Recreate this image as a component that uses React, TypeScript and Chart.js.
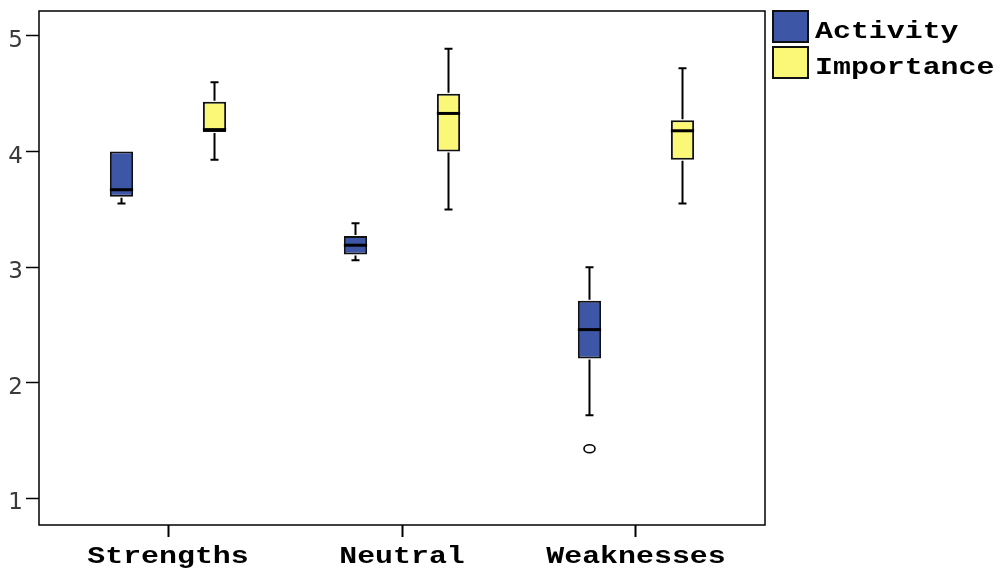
import React, { useEffect, useRef } from "react";
import { Chart, registerables } from "chart.js";

Chart.register(...registerables);

// ---- data ----
const categories = ["Strengths", "Neutral", "Weaknesses"];
const seriesNames = ["Activity", "Importance"];
const seriesColors = ["#3D56A6", "#FBF877"];

const activityMin = [3.55, 3.06, 1.72];
const activityQ1 = [3.61, 3.11, 2.21];
const activityMedian = [3.67, 3.19, 2.46];
const activityQ3 = [4.0, 3.27, 2.71];
const activityMax = [4.0, 3.38, 3.0];
const activityOutliers: number[][] = [[], [], [1.43]];

const importanceMin = [3.93, 3.5, 3.55];
const importanceQ1 = [4.17, 4.0, 3.93];
const importanceMedian = [4.19, 4.33, 4.18];
const importanceQ3 = [4.43, 4.5, 4.27];
const importanceMax = [4.6, 4.89, 4.72];
const importanceOutliers: number[][] = [[], [], []];

const yTicks = [1, 2, 3, 4, 5];
const xTicks = [0, 1, 2];

const stats = [
  { min: activityMin, q1: activityQ1, med: activityMedian, q3: activityQ3, max: activityMax, out: activityOutliers },
  { min: importanceMin, q1: importanceQ1, med: importanceMedian, q3: importanceQ3, max: importanceMax, out: importanceOutliers },
];

const LABEL_FONT = "bold 23px 'Liberation Mono', 'Courier New', monospace";
const STRETCH = 1.3;

function stretchedText(ctx: CanvasRenderingContext2D, text: string, x: number, y: number, align: CanvasTextAlign) {
  ctx.save();
  ctx.translate(x, y);
  ctx.scale(STRETCH, 1);
  ctx.textAlign = align;
  ctx.textBaseline = "alphabetic";
  ctx.fillText(text, 0, 0);
  ctx.restore();
}

const boxPlugin = {
  id: "boxExtras",
  afterDatasetsDraw(chart: any) {
    const ctx: CanvasRenderingContext2D = chart.ctx;
    const ys = chart.scales.y;
    ctx.save();
    stats.forEach((s, di) => {
      const meta = chart.getDatasetMeta(di);
      meta.data.forEach((el: any, i: number) => {
        const x = el.x;
        const w = el.width;
        const pTop = ys.getPixelForValue(s.q3[i]);
        const pBot = ys.getPixelForValue(s.q1[i]);
        const pMax = ys.getPixelForValue(s.max[i]);
        const pMin = ys.getPixelForValue(s.min[i]);
        const pMed = ys.getPixelForValue(s.med[i]);
        ctx.strokeStyle = "#000";
        ctx.lineWidth = 2;
        ctx.lineCap = "butt";
        const cap = 4;
        if (pMax < pTop - 0.5) {
          ctx.beginPath();
          ctx.moveTo(x, pTop - 1);
          ctx.lineTo(x, pMax);
          ctx.moveTo(x - cap, pMax);
          ctx.lineTo(x + cap, pMax);
          ctx.stroke();
        }
        if (pMin > pBot + 0.5) {
          ctx.beginPath();
          ctx.moveTo(x, pBot + 1);
          ctx.lineTo(x, pMin);
          ctx.moveTo(x - cap, pMin);
          ctx.lineTo(x + cap, pMin);
          ctx.stroke();
        }
        ctx.lineWidth = 3;
        ctx.beginPath();
        ctx.moveTo(x - w / 2, pMed);
        ctx.lineTo(x + w / 2, pMed);
        ctx.stroke();
        ctx.lineWidth = 1.6;
        s.out[i].forEach((v) => {
          const py = ys.getPixelForValue(v);
          ctx.beginPath();
          ctx.ellipse(x, py, 5.5, 4, 0, 0, Math.PI * 2);
          ctx.fillStyle = "#fff";
          ctx.fill();
          ctx.stroke();
        });
      });
    });
    ctx.restore();
  },
  afterDraw(chart: any) {
    const ctx: CanvasRenderingContext2D = chart.ctx;
    const a = chart.chartArea;
    const xs = chart.scales.x;
    ctx.save();
    // frame
    ctx.strokeStyle = "#000";
    ctx.lineWidth = 1.5;
    ctx.strokeRect(a.left, a.top, a.right - a.left, a.bottom - a.top);
    // x category labels
    ctx.fillStyle = "#000";
    ctx.font = LABEL_FONT;
    xTicks.forEach((v, i) => {
      stretchedText(ctx, categories[i], xs.getPixelForValue(v), 563, "center");
    });
    // legend
    const lx = a.right + 8;
    seriesNames.forEach((name, i) => {
      const top = a.top + i * 36;
      ctx.fillStyle = seriesColors[i];
      ctx.fillRect(lx, top, 35, 31);
      ctx.strokeStyle = "#111";
      ctx.lineWidth = 2;
      ctx.strokeRect(lx, top, 35, 31);
      ctx.fillStyle = "#000";
      stretchedText(ctx, name, lx + 42, top + 27, "left");
    });
    ctx.restore();
  },
};

export default function App() {
  const ref = useRef<HTMLCanvasElement | null>(null);
  useEffect(() => {
    document.body.style.margin = "0";
    const canvas = ref.current!;
    const datasets = stats.map((s, di) => ({
      label: seriesNames[di],
      data: xTicks.map((x, i) => ({ x, y: [s.q1[i], s.q3[i]] })),
      backgroundColor: seriesColors[di],
      borderColor: "#111",
      borderWidth: 2,
      borderSkipped: false,
      categoryPercentage: 0.795,
      barPercentage: 0.25,
    }));
    const chart = new Chart(canvas, {
      type: "bar",
      data: { datasets } as any,
      plugins: [boxPlugin],
      options: {
        animation: false,
        responsive: false,
        layout: { padding: { top: 11, right: 239, left: 0, bottom: 0 } },
        plugins: { legend: { display: false }, tooltip: { enabled: false } },
        scales: {
          x: {
            type: "linear",
            offset: false,
            min: -0.5513,
            max: 2.5513,
            afterBuildTicks: (s: any) => {
              s.ticks = xTicks.map((v) => ({ value: v }));
            },
            afterFit: (s: any) => {
              s.height = 43;
              s.paddingLeft = 0;
              s.paddingRight = 0;
            },
            ticks: { display: false },
            border: { display: false },
            grid: {
              offset: false,
              drawOnChartArea: false,
              drawTicks: true,
              tickLength: 12,
              tickWidth: 2,
              tickColor: "#000",
            },
          },
          y: {
            type: "linear",
            min: 0.77,
            max: 5.216,
            afterBuildTicks: (s: any) => {
              s.ticks = yTicks.map((v) => ({ value: v }));
            },
            afterFit: (s: any) => {
              s.width = 39;
              s.paddingTop = 0;
              s.paddingBottom = 0;
            },
            ticks: {
              padding: 3,
              labelOffset: 5,
              color: "#3a3a3a",
              font: { family: "'DejaVu Sans', sans-serif", size: 23, weight: "normal" },
            },
            border: { display: false },
            grid: {
              drawOnChartArea: false,
              drawTicks: true,
              tickLength: 13,
              tickWidth: 1.5,
              tickColor: "#000",
            },
          },
        },
      } as any,
    });
    return () => chart.destroy();
  }, []);
  return (
    <canvas
      ref={ref}
      width={1004}
      height={568}
      style={{ display: "block", position: "fixed", left: 0, top: 0, width: 1004, height: 568 }}
    />
  );
}
